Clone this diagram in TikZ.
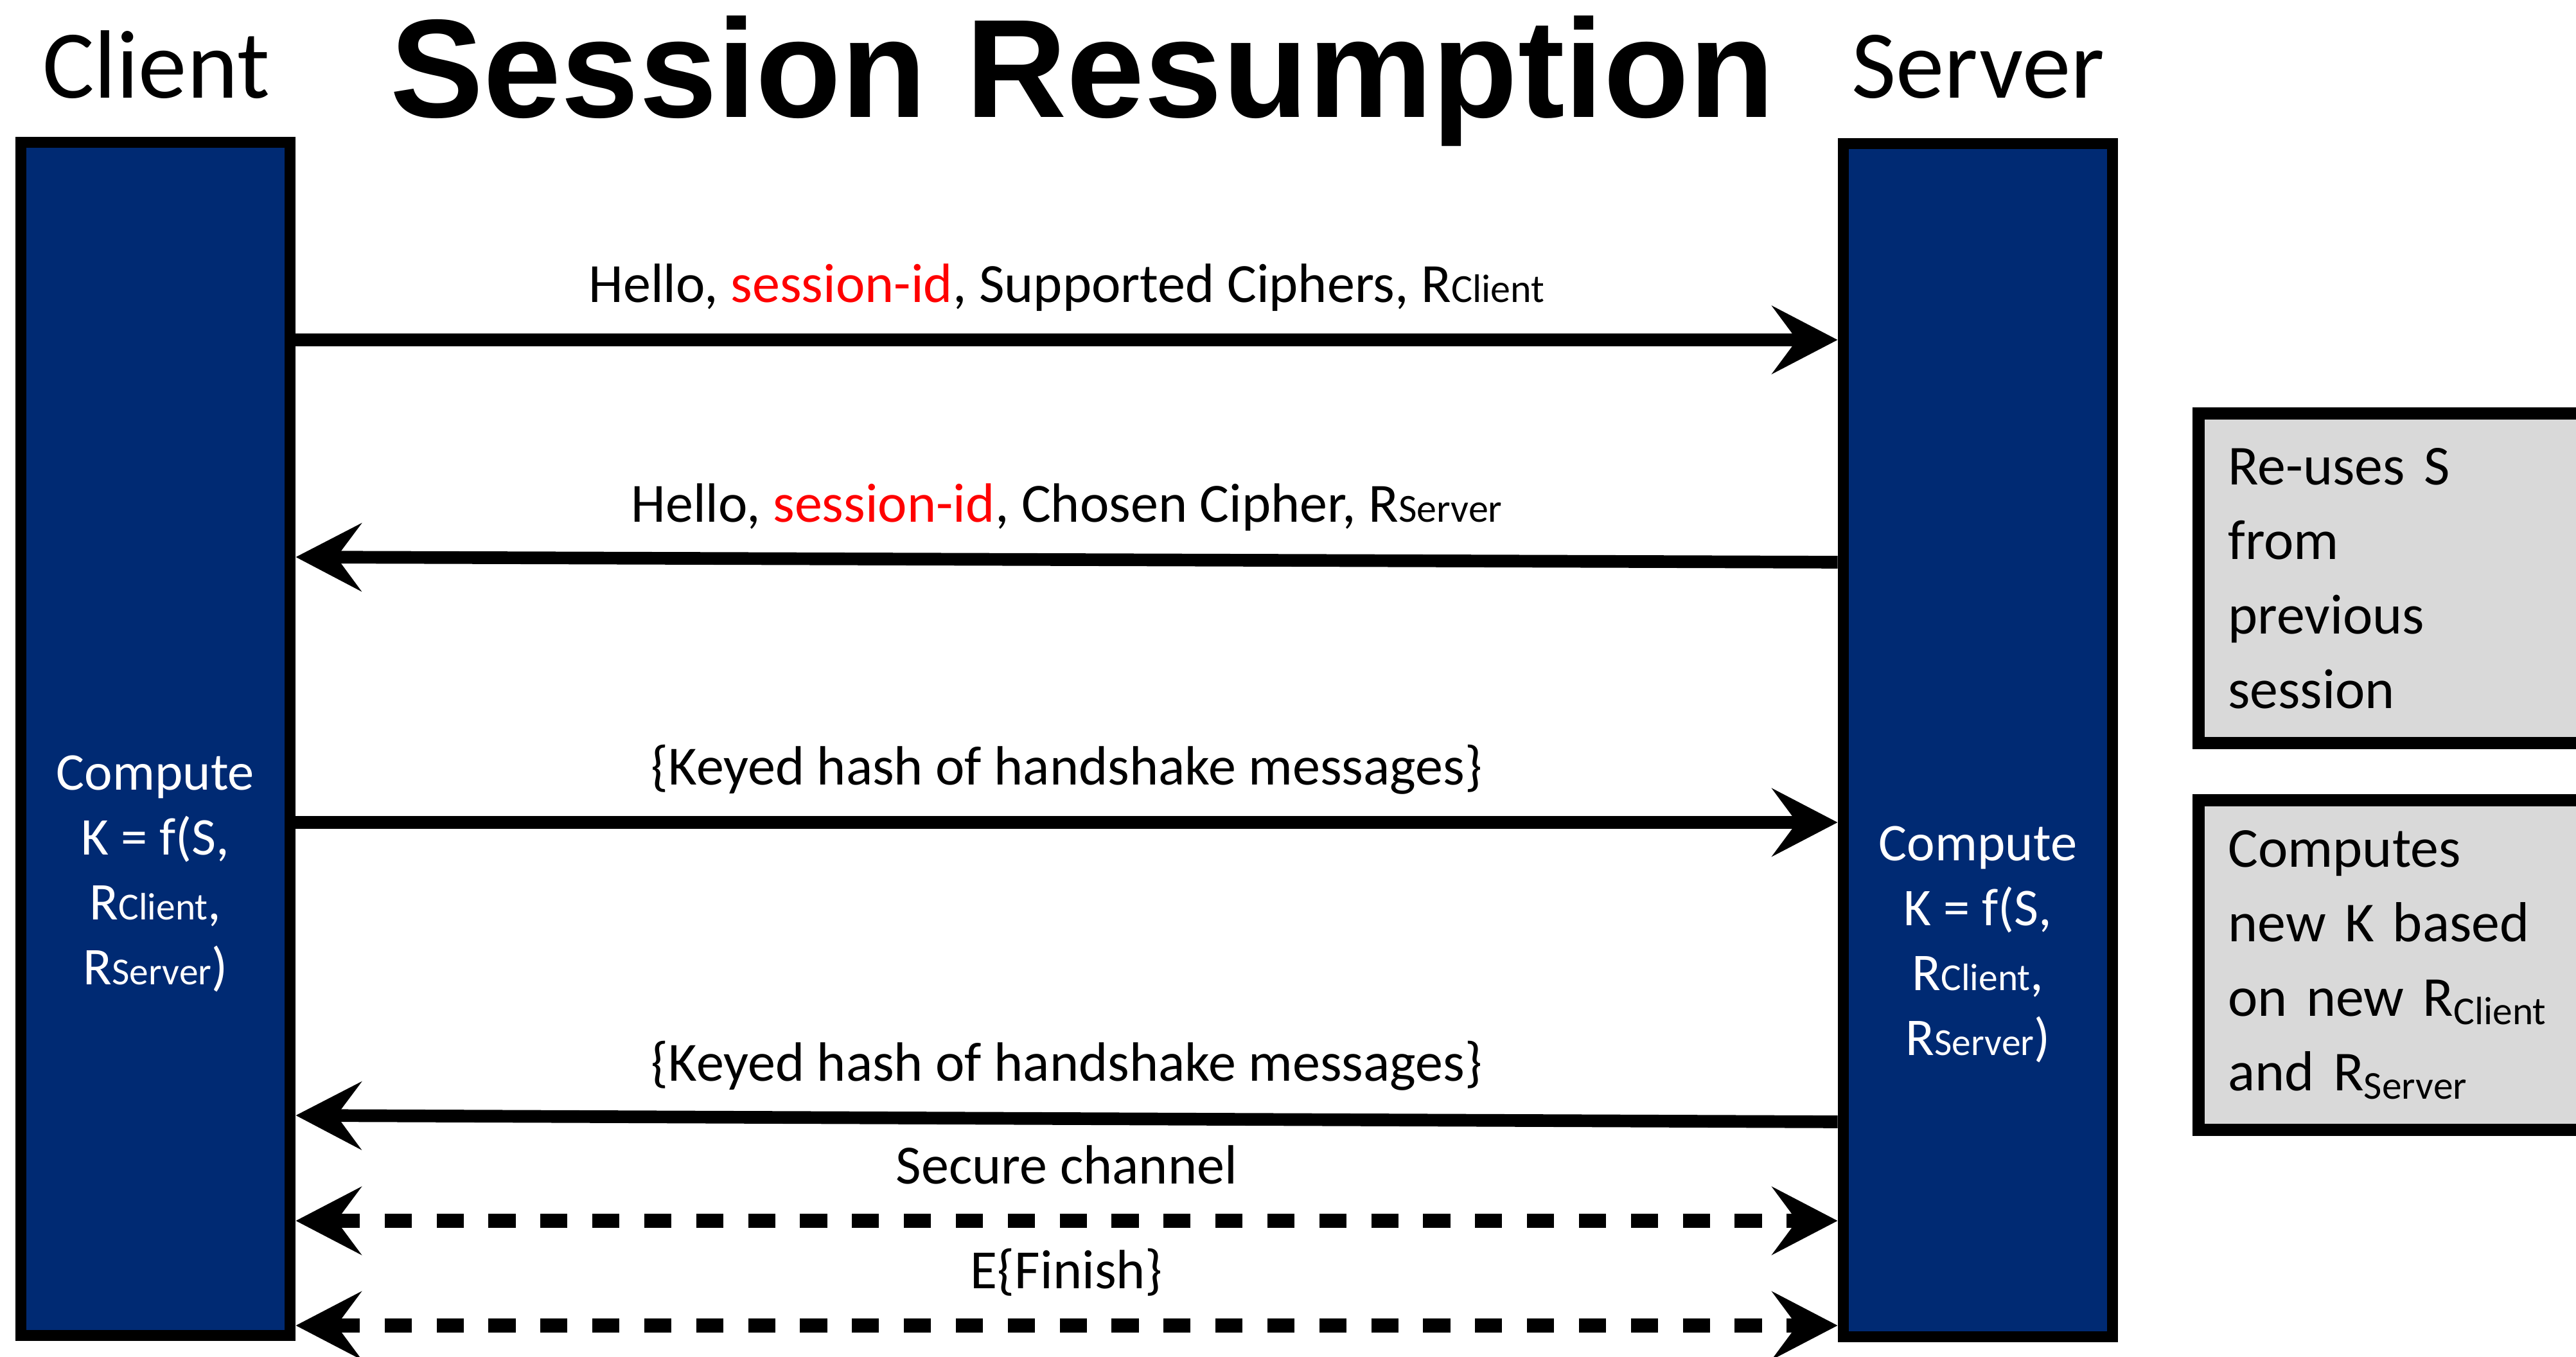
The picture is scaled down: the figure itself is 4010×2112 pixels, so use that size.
\documentclass[tikz,border=0pt]{standalone}
\usepackage{fontspec}
\setmainfont{Carlito}
\newfontfamily\headfont{Liberation Sans}
\usetikzlibrary{arrows.meta}
\definecolor{lifeblue}{RGB}{0,42,115}
\definecolor{notegray}{RGB}{217,217,217}
\newcommand{\Rsm}[1]{R\scalebox{0.72}{#1}}
\newcommand{\sid}{\textcolor{red}{session-id}}

\begin{document}
\begin{tikzpicture}[x=0.1mm,y=-0.1mm,
  life/.style={rectangle,draw,line width=5.1pt,fill=lifeblue,inner sep=0pt,minimum width=4.19cm,minimum height=18.57cm},
  who/.style={anchor=base,font=\fontsize{43}{50}\selectfont},
  kcalc/.style={text=white,align=center,font=\fontsize{23.5}{28.7}\selectfont},
  msg/.style={line width=5.6pt,-{Stealth[length=29pt,width=30pt,inset=11pt]}},
  chan/.style={line width=6pt,dash pattern=on 12pt off 11pt,{Stealth[length=29pt,width=30pt,inset=11pt]}-{Stealth[length=29pt,width=30pt,inset=11pt]}},
  lbl/.style={anchor=base,yshift=0.58cm,font=\fontsize{24.5}{30}\selectfont},
  note/.style={rectangle,draw,line width=5.4pt,fill=notegray,anchor=west,align=left,text width=6cm,inner xsep=0.46cm,minimum height=5.13cm,font=\fontsize{25}{33}\selectfont}]
\useasboundingbox (0,0) rectangle (4010,2112);

% lifelines
\node [life] (client) at (242,1150) {};
\node [life] (server) at (3079,1152) {};
\node [who] (clientname) at (243,153) {Client};
\node [who] (servername) at (3079,153) {Server};
\node [anchor=base,font=\headfont\bfseries\fontsize{62}{70}\selectfont] (title) at (1685,183) {Session Resumption};

\node [kcalc] (ckey) at (242,1360) {Compute\\K = f(S,\\\Rsm{Client},\\\Rsm{Server})};
\node [kcalc] (skey) at (3079,1470) {Compute\\K = f(S,\\\Rsm{Client},\\\Rsm{Server})};

% messages
\draw [msg] (client.east |- 0,529) -- node[lbl] {Hello, \sid, Supported Ciphers, \Rsm{Client}} (server.west |- 0,529);
\draw [msg] (server.west |- 0,875) -- node[lbl] {Hello, \sid, Chosen Cipher, \Rsm{Server}} (client.east |- 0,867);
\draw [msg] (client.east |- 0,1280) -- node[lbl] {\{Keyed hash of handshake messages\}} (server.west |- 0,1280);
\draw [msg] (server.west |- 0,1746) -- node[lbl] {\{Keyed hash of handshake messages\}} (client.east |- 0,1736);
\draw [chan] (client.east |- 0,1900) -- node[lbl] {Secure channel} (server.west |- 0,1900);
\draw [chan] (client.east |- 0,2063) -- node[lbl] {E\{Finish\}} (server.west |- 0,2063);

% side notes
\node [note] (reuse) at (3413,900) {Re-uses S\\from\\previous\\session};
\node [note] (newk) at (3413,1502) {Computes\\new K based\\on new R\textsubscript{Client}\\and R\textsubscript{Server}};
\end{tikzpicture}
\end{document}
